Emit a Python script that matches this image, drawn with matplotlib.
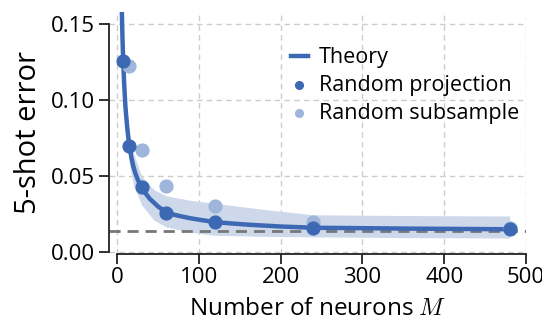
import matplotlib
matplotlib.use("Agg")
import matplotlib.pyplot as plt

plt.rcParams['font.family'] = ['Open Sans', 'DejaVu Sans']
plt.rcParams['mathtext.fontset'] = 'cm'

# values
m_theory = [5, 5.5, 6, 6.5, 7, 7.5, 8.5, 10, 11, 12.5, 14, 15, 17.5, 20, 22.5, 25, 27.5, 30,
            35, 40, 45, 50, 60, 70, 80, 90, 100, 120, 140, 160, 200, 240, 300, 360, 420, 480]
err_theory = [0.182, 0.166, 0.153, 0.142, 0.133, 0.126, 0.112, 0.097, 0.090, 0.081, 0.074,
              0.070, 0.062, 0.056, 0.0515, 0.048, 0.045, 0.0426, 0.0385, 0.035, 0.0325, 0.030,
              0.026, 0.0245, 0.0233, 0.0222, 0.0213, 0.0197, 0.0188, 0.0180, 0.0168, 0.0160,
              0.0157, 0.0154, 0.0152, 0.0150]

m_band = [7.5, 10, 15, 20, 30, 45, 60, 90, 120, 180, 240, 360, 480]
band_hi = [0.140, 0.105, 0.078, 0.065, 0.050, 0.041, 0.037, 0.034, 0.032, 0.028, 0.0245, 0.024, 0.0237]
band_lo = [0.115, 0.086, 0.058, 0.044, 0.031, 0.021, 0.0165, 0.013, 0.011, 0.0103, 0.0100, 0.0095, 0.0092]

m_proj = [7.5, 15, 30, 60, 120, 240, 480]
err_proj = [0.126, 0.070, 0.0426, 0.026, 0.0197, 0.016, 0.015]

m_sub = [15, 30, 60, 120, 240, 480]
err_sub = [0.1225, 0.0673, 0.0436, 0.0305, 0.0195, 0.0155]

asymptote = 0.0138

dark = '#3d68b3'
light = '#9fb6dc'
band = '#cdd8ea'

fig = plt.figure(figsize=(5.42, 3.23), dpi=100)
ax = fig.add_axes([0.201, 0.215, 0.7695, 0.748])

ax.grid(True, color='#cccccc', linestyle=(0, (4, 3)), linewidth=1)
ax.set_axisbelow(True)

ax.fill_between(m_band, band_lo, band_hi, color=band, linewidth=0, zorder=1)
ax.axhline(asymptote, color='#777777', linestyle=(0, (4, 2.5)), linewidth=2, zorder=2)
ax.plot(m_theory, err_theory, color=dark, linewidth=3.2, zorder=3, label='Theory')
ax.scatter(m_sub, err_sub, s=85, color=light, zorder=3, label='Random subsample')
ax.scatter(m_proj, err_proj, s=85, color=dark, zorder=4, label='Random projection')

ax.set_xlim(-10, 500)
ax.set_ylim(-0.001, 0.158)
ax.set_xticks([0, 100, 200, 300, 400, 500])
ax.set_yticks([0, 0.05, 0.10, 0.15])
ax.set_yticklabels(['0.00', '0.05', '0.10', '0.15'])
ax.spines['top'].set_visible(False)
ax.spines['right'].set_visible(False)
ax.spines['left'].set_bounds(0, 0.15)
ax.spines['bottom'].set_bounds(0, 500)
for s in ('left', 'bottom'):
    ax.spines[s].set_linewidth(1.3)
    ax.spines[s].set_color('#222222')
ax.tick_params(labelsize=16, width=1.3, length=7, color='#222222', pad=3)

ax.set_xlabel('Number of neurons $M$', fontsize=17.5, labelpad=6)
ax.set_ylabel('5-shot error', fontsize=21, labelpad=6)

h, l = ax.get_legend_handles_labels()
order = [0, 2, 1]
ax.legend([h[i] for i in order], [l[i] for i in order], frameon=False, fontsize=15.5,
          loc='upper left', bbox_to_anchor=(0.415, 0.89), handlelength=0.8,
          handletextpad=0.5, labelspacing=0.32, borderaxespad=0, markerscale=0.6)

plt.savefig('out.png', dpi=100)
